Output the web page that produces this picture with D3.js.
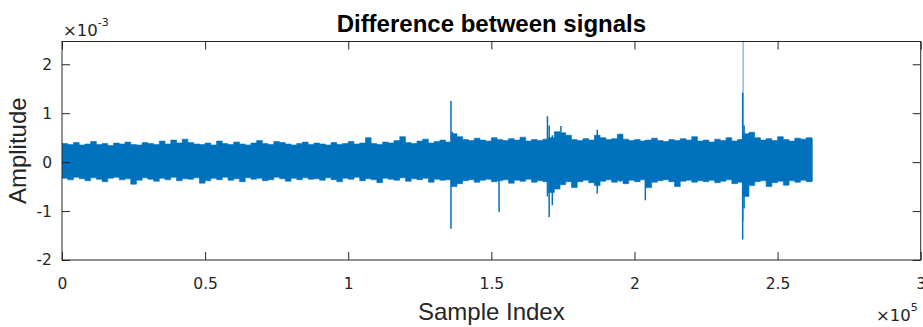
<!DOCTYPE html>
<html>
<head>
<meta charset="utf-8">
<script src="https://cdn.jsdelivr.net/npm/d3@7"></script>
<style>
  html, body { margin: 0; padding: 0; background: #ffffff; }
  svg { display: block; }
</style>
</head>
<body>
<svg id="chart" width="923" height="327"></svg>
<script>
// ---------------- DATA (amplitudes in units of 1e-3) ----------------
const signalLength = 262144;          // samples
const binSize = 2000;                 // samples per envelope bin
// upper envelope of the difference signal, one value per bin
const upperEnvelope = [
  0.38,0.36,0.40,0.35,0.37,0.42,0.36,0.38,0.34,0.39,0.37,0.41,0.36,0.35,0.40,0.38,0.36,0.43,0.37,0.45,0.39,0.47,
  0.40,0.37,0.36,0.39,0.35,0.43,0.38,0.36,0.41,0.37,0.35,0.39,0.44,0.38,0.36,0.42,0.40,0.37,0.35,0.38,0.41,0.36,
  0.39,0.37,0.35,0.40,0.36,0.38,0.42,0.37,0.39,0.50,0.38,0.36,0.41,0.39,0.44,0.52,0.40,0.38,0.43,0.47,0.39,0.42,0.45,
  0.41,0.58,0.52,0.46,0.44,0.49,0.45,0.43,0.50,0.46,0.44,0.48,0.45,0.51,0.43,0.46,0.44,0.47,0.50,0.62,0.60,0.55,
  0.46,0.44,0.48,0.45,0.55,0.50,0.46,0.48,0.57,0.47,0.44,0.46,0.43,0.45,0.49,0.44,0.42,0.46,0.44,0.48,0.45,0.52,
  0.43,0.45,0.41,0.47,0.44,0.50,0.43,0.46,0.58,0.61,0.50,0.45,0.48,0.44,0.52,0.46,0.43,0.49,0.47,0.50,0.48
];
// lower envelope, one value per bin
const lowerEnvelope = [
  -0.33,-0.36,-0.31,-0.34,-0.38,-0.32,-0.35,-0.40,-0.33,-0.31,-0.36,-0.34,-0.45,-0.37,-0.32,-0.35,-0.39,-0.33,-0.36,-0.31,-0.38,-0.34,
  -0.35,-0.32,-0.43,-0.38,-0.33,-0.36,-0.31,-0.37,-0.34,-0.40,-0.32,-0.35,-0.33,-0.38,-0.36,-0.31,-0.34,-0.39,-0.33,-0.36,-0.32,-0.35,
  -0.34,-0.37,-0.32,-0.36,-0.40,-0.33,-0.35,-0.31,-0.38,-0.34,-0.36,-0.42,-0.33,-0.35,-0.37,-0.32,-0.39,-0.34,-0.36,-0.33,-0.41,-0.35,-0.37,
  -0.36,-0.50,-0.44,-0.38,-0.36,-0.41,-0.37,-0.35,-0.40,-0.38,-0.36,-0.43,-0.37,-0.39,-0.35,-0.41,-0.38,-0.40,-0.62,-0.55,-0.46,-0.40,
  -0.52,-0.40,-0.37,-0.42,-0.48,-0.39,-0.36,-0.41,-0.38,-0.44,-0.37,-0.40,-0.36,-0.52,-0.41,-0.38,-0.36,-0.40,-0.50,-0.39,-0.37,-0.41,
  -0.38,-0.40,-0.37,-0.42,-0.39,-0.36,-0.44,-0.41,-0.70,-0.48,-0.40,-0.38,-0.50,-0.42,-0.39,-0.47,-0.38,-0.41,-0.37,-0.40,-0.39
];
// isolated spikes: sample index, max and min amplitude
const spikeIndex = [135900, 136400, 152700, 169600, 170200, 171300, 174300, 187000, 195100, 203800, 237800, 237950, 238300];
const spikeMax   = [1.25,   0.62,   0.40,   0.94,   0.75,   0.55,   0.74,   0.66,   0.58,   0.45,   1.42,   3.00,   0.75];
const spikeMin   = [-1.36, -0.50,  -1.02,  -0.70,  -1.12,  -0.88,  -0.45,  -0.64,  -0.40,  -0.78,  -1.58,  -1.20,  -0.95];

const xTicks = [0, 50000, 100000, 150000, 200000, 250000, 300000];
const xTickLabels = ["0", "0.5", "1", "1.5", "2", "2.5", "3"];
const yTicks = [-2, -1, 0, 1, 2];
const yTickLabels = ["-2", "-1", "0", "1", "2"];

const titleText = "Difference between signals";
const xLabelText = "Sample Index";
const yLabelText = "Amplitude";

// ---------------- LAYOUT ----------------
const svg = d3.select("#chart");
const mL = 62, mR = 920.7, mT = 41.5, mB = 260;
const lineColor = "#0072BD";
const axisColor = "#262626";

const x = d3.scaleLinear().domain([0, 300000]).range([mL, mR]);
const y = d3.scaleLinear().domain([-2, 2.465]).range([mB, mT]);

svg.append("defs").append("clipPath").attr("id", "plotclip")
  .append("rect").attr("x", mL).attr("y", mT)
  .attr("width", mR - mL).attr("height", mB - mT);

const plot = svg.append("g").attr("clip-path", "url(#plotclip)");

// envelope data: each bin spans [start, end)
const env = upperEnvelope.map((u, i) => ({
  idx: i * binSize,
  hi: u,
  lo: lowerEnvelope[i]
}));
env.push({ idx: signalLength, hi: upperEnvelope[upperEnvelope.length - 1], lo: lowerEnvelope[lowerEnvelope.length - 1] });

const area = d3.area()
  .curve(d3.curveStepAfter)
  .x(d => x(d.idx))
  .y0(d => y(d.lo))
  .y1(d => y(d.hi));
plot.append("path").datum(env)
  .attr("d", area)
  .attr("fill", lineColor)
  .attr("stroke", lineColor)
  .attr("stroke-width", 0.6)
  .attr("stroke-linejoin", "miter");

// spikes
plot.selectAll("line.spike").data(spikeIndex).enter().append("line")
  .attr("class", "spike")
  .attr("x1", d => x(d)).attr("x2", d => x(d))
  .attr("y1", (d, i) => y(spikeMax[i]))
  .attr("y2", (d, i) => y(spikeMin[i]))
  .attr("stroke", lineColor)
  .attr("stroke-width", (d, i) => spikeMax[i] > 2 ? 1 : 1.5)
  .attr("stroke-opacity", (d, i) => spikeMax[i] > 2 ? 0.7 : 1);

// ---------------- AXES ----------------
const tickFont = "'DejaVu Sans', sans-serif";
const tickLen = 8;

const xAxis = d3.axisBottom(x).tickValues(xTicks)
  .tickFormat((d, i) => xTickLabels[i]).tickSizeInner(-tickLen).tickSizeOuter(0).tickPadding(18);
const gx = svg.append("g").attr("transform", `translate(0,${mB})`).call(xAxis);

const xAxisTop = d3.axisTop(x).tickValues(xTicks).tickFormat("").tickSizeInner(-tickLen).tickSizeOuter(0);
const gxt = svg.append("g").attr("transform", `translate(0,${mT})`).call(xAxisTop);

const yAxis = d3.axisLeft(y).tickValues(yTicks)
  .tickFormat((d, i) => yTickLabels[i]).tickSizeInner(-tickLen).tickSizeOuter(0).tickPadding(10);
const gy = svg.append("g").attr("transform", `translate(${mL},0)`).call(yAxis);

const yAxisRight = d3.axisRight(y).tickValues(yTicks).tickFormat("").tickSizeInner(-tickLen).tickSizeOuter(0);
const gyr = svg.append("g").attr("transform", `translate(${mR},0)`).call(yAxisRight);

[gx, gxt, gy, gyr].forEach(g => {
  g.select(".domain").remove();
  g.selectAll(".tick line").attr("stroke", axisColor).attr("stroke-width", 1);
  g.selectAll(".tick text").attr("fill", axisColor)
    .style("font-family", tickFont).style("font-size", "15.5px");
});

// box
svg.append("rect").attr("x", mL).attr("y", mT)
  .attr("width", mR - mL).attr("height", mB - mT)
  .attr("fill", "none").attr("stroke", axisColor).attr("stroke-width", 1);

// exponent labels
const expY = svg.append("text").attr("x", 63).attr("y", 36)
  .attr("fill", axisColor).style("font-family", tickFont).style("font-size", "16.5px");
expY.append("tspan").text("\u00D710");
expY.append("tspan").attr("dy", -10).style("font-size", "11px").text("-3");

const expX = svg.append("text").attr("x", 876).attr("y", 321)
  .attr("fill", axisColor).style("font-family", tickFont).style("font-size", "16.5px");
expX.append("tspan").text("\u00D710");
expX.append("tspan").attr("dy", -10).style("font-size", "11px").text("5");

// title and labels
svg.append("text").attr("x", (mL + mR) / 2).attr("y", 32)
  .attr("text-anchor", "middle").attr("fill", "#000")
  .style("font-family", "'Liberation Sans', Arial, sans-serif")
  .style("font-weight", "bold").style("font-size", "24px")
  .text(titleText);

svg.append("text").attr("x", (mL + mR) / 2).attr("y", 320)
  .attr("text-anchor", "middle").attr("fill", axisColor)
  .style("font-family", "'Liberation Sans', Arial, sans-serif")
  .style("font-size", "24px")
  .text(xLabelText);

svg.append("text")
  .attr("transform", `translate(26,${(mT + mB) / 2}) rotate(-90)`)
  .attr("text-anchor", "middle").attr("fill", axisColor)
  .style("font-family", "'Liberation Sans', Arial, sans-serif")
  .style("font-size", "24px")
  .text(yLabelText);
</script>
</body>
</html>
